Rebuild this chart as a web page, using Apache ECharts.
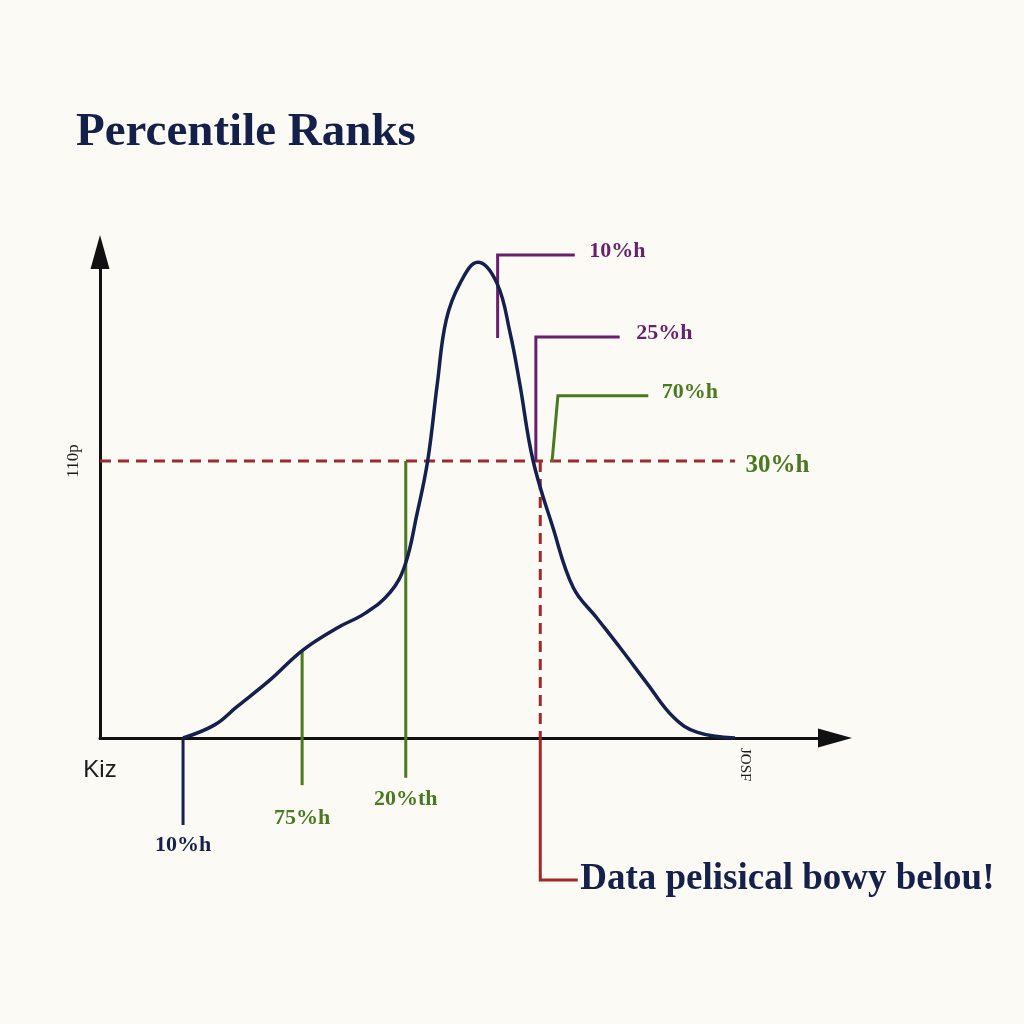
<!DOCTYPE html>
<html>
<head>
<meta charset="utf-8">
<script src="https://cdn.jsdelivr.net/npm/echarts@6/dist/echarts.min.js"></script>
<style>
html,body{margin:0;padding:0;background:#fbfaf5;}
#chart{width:1024px;height:1024px;}
</style>
</head>
<body>
<div id="chart"></div>
<script>
// ---- data ----
const titleText = 'Percentile Ranks';
const curveX = [11.3, 15.6, 18.6, 23.1, 27.6, 32.2, 36.1, 39.5, 41.5, 43.1, 44.6, 45.9, 47.1, 49.0, 51.4, 54.0, 55.8, 57.1, 58.9, 61.6, 64.4, 67.6, 71.0, 74.4, 78.0, 81.2, 86.4];
const curveY = [0, 2.7, 6.4, 11.9, 18.1, 22.6, 25.7, 30.0, 35.6, 45.9, 57.2, 73.0, 86.0, 93.6, 97.9, 93.6, 83.3, 73.0, 57.2, 43.4, 30.9, 24.7, 18.1, 11.3, 4.3, 1.2, 0];

const yTickValues = [57.0];
const yTickLabels = ['110p'];
const xTickValues = [0];
const xTickLabels = ['Kiz'];
const xEndTickValues = [87.8];
const xEndTickLabels = ['JOSF'];

const refLineX = [0, 86.4], refLineY = [57.0, 57.0], refLabel = '30%h';
const navy10X = [11.3, 11.3], navy10Y = [0, -17.9], navy10Label = '10%h';
const green75X = [27.5, 27.5], green75Y = [18.1, -9.7], green75Label = '75%h';
const green20X = [41.6, 41.6], green20Y = [57.0, -8.2], green20Label = '20%th';
const redDashX = [59.9, 59.9], redDashY = [57.0, 0];
const redSolidX = [59.9, 59.9, 65.0], redSolidY = [0, -29.2, -29.2], redLabel = 'Data pelisical bowy belou!';
const purple10X = [54.1, 54.1, 64.6], purple10Y = [82.3, 99.4, 99.4], purple10Label = '10%h';
const purple25X = [59.3, 59.3, 70.7], purple25Y = [57.0, 82.5, 82.5], purple25Label = '25%h';
const green70X = [61.5, 62.3, 74.6], green70Y = [56.8, 70.4, 70.4], green70Label = '70%h';

// ---- style ----
const NAVY = '#16214b', GREEN = '#4a7a1f', PURPLE = '#6a1e6e', RED = '#9e2a2b';
const SERIF = '"Liberation Serif", "DejaVu Serif", serif';

function zip(xs, ys) { return xs.map((x, i) => [x, ys[i]]); }

const labelPoints = [];
function seg(xs, ys, color, width, dashed, labelText, labelCfg) {
  if (labelText) {
    const n = xs.length - 1;
    labelPoints.push({
      value: [xs[n], ys[n]],
      label: Object.assign({
        show: true, formatter: labelText, color: color, opacity: 1,
        fontFamily: SERIF, fontWeight: 'bold', fontSize: 22
      }, labelCfg)
    });
  }
  return {
    type: 'line', data: zip(xs, ys), clip: false, smooth: false, silent: true,
    showSymbol: false, symbol: 'none', animation: false, z: 3,
    lineStyle: { color: color, width: width, type: dashed ? [11, 7] : 'solid', cap: 'butt', join: 'miter' }
  };
}

const series = [
  seg(refLineX, refLineY, RED, 3, true, refLabel, { position: 'right', distance: 10, color: GREEN, fontSize: 25, offset: [0, 5] }),
  seg(redDashX, redDashY, RED, 3, true, null),
  seg(redSolidX, redSolidY, RED, 3, false, redLabel, { position: 'right', distance: 2, color: NAVY, fontSize: 37, fontWeight: 'bold' }),
  seg(navy10X, navy10Y, NAVY, 3, false, navy10Label, { position: 'bottom', distance: 9, color: NAVY }),
  seg(green75X, green75Y, GREEN, 3, false, green75Label, { position: 'bottom', distance: 22 }),
  seg(green20X, green20Y, GREEN, 3, false, green20Label, { position: 'bottom', distance: 10 }),
  seg(purple10X, purple10Y, PURPLE, 3, false, purple10Label, { position: 'right', distance: 14, offset: [0, -4] }),
  seg(purple25X, purple25Y, PURPLE, 3, false, purple25Label, { position: 'right', distance: 16, offset: [0, -4] }),
  seg(green70X, green70Y, GREEN, 3, false, green70Label, { position: 'right', distance: 13, offset: [0, -4] }),
  {
    type: 'line', data: zip(curveX, curveY), smooth: 0.4, showSymbol: false, silent: true,
    clip: false, z: 5, lineStyle: { color: '#14204d', width: 3.5 }
  },
  {
    type: 'scatter', data: labelPoints, symbol: 'circle', symbolSize: 1, clip: false, silent: true, z: 6,
    itemStyle: { color: 'rgba(0,0,0,0)', opacity: 1 }
  }
];

const chart = echarts.init(document.getElementById('chart'), null, { renderer: 'canvas' });
chart.setOption({
  backgroundColor: '#fbfaf5',
  animation: false,
  title: {
    text: titleText, left: 71, top: 104,
    textStyle: { fontFamily: SERIF, fontSize: 47, fontWeight: 'bold', color: '#14204a' }
  },
  grid: { left: 100, right: 189, top: 252, bottom: 286 },
  xAxis: [{
    type: 'value', min: 0, max: 100,
    axisLine: { show: true, onZero: true, symbol: ['none', 'triangle'], symbolSize: [19, 34],
      lineStyle: { color: '#111', width: 3 } },
    axisTick: { show: false }, splitLine: { show: false },
    axisLabel: {
      customValues: xTickValues, margin: 20,
      formatter: v => xTickLabels[xTickValues.indexOf(v)] || '',
      fontFamily: '"Liberation Sans", sans-serif', fontSize: 24, color: '#1a1a1a'
    }
  }, {
    type: 'value', min: 0, max: 100, position: 'bottom',
    axisLine: { show: false }, axisTick: { show: false }, splitLine: { show: false },
    axisLabel: {
      customValues: xEndTickValues, margin: 10, rotate: -90,
      formatter: v => xEndTickLabels[xEndTickValues.indexOf(v)] || '',
      fontFamily: SERIF, fontSize: 15, color: '#1a1a1a'
    }
  }],
  yAxis: {
    type: 'value', min: 0, max: 100,
    axisLine: { show: true, symbol: ['none', 'triangle'], symbolSize: [19, 34],
      lineStyle: { color: '#111', width: 3 } },
    axisTick: { show: false }, splitLine: { show: false },
    axisLabel: {
      customValues: yTickValues, margin: 18, rotate: 90,
      formatter: v => yTickLabels[yTickValues.indexOf(v)] || '',
      fontFamily: SERIF, fontSize: 17, color: '#1a1a1a'
    }
  },
  series: series
});
</script>
</body>
</html>
